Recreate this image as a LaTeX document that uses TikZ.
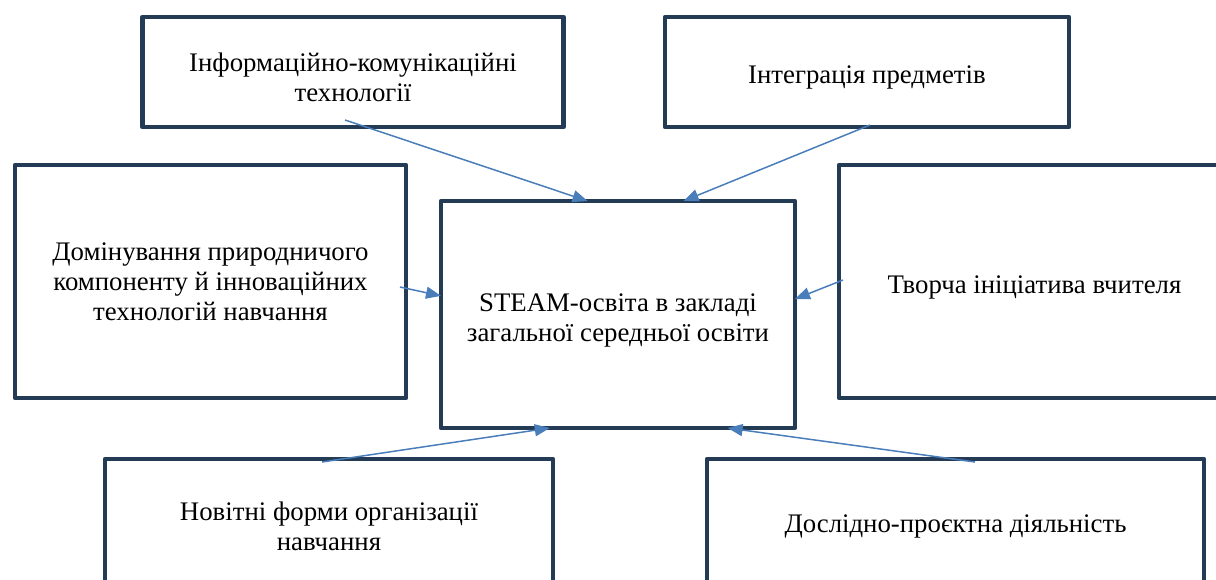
\documentclass[tikz,border=0pt]{standalone}
\usepackage{fontspec}
\setmainfont{Liberation Serif}
\usepackage{tikz}
\usetikzlibrary{arrows.meta}
\definecolor{boxnavy}{HTML}{243B55}
\definecolor{arrowblue}{HTML}{4A7EBB}
\newcommand{\boxlead}{\rule{0pt}{15pt}}

\begin{document}
\begin{tikzpicture}[
    x=0.5pt, y=-0.5pt,
    >={Triangle[length=7.5pt, width=6pt]},
    box/.style={rectangle, draw=boxnavy, line width=2.2pt, line join=round,
                fill=white, align=center, inner sep=0pt, outer sep=0pt,
                font=\fontsize{13.4}{15}\selectfont,
                execute at begin node={\rule{0pt}{14.5pt}}},
    line/.style={->, line width=0.75pt, arrowblue}
  ]
  \clip (0,0) rectangle (1216,579);

  % Central block
  \node[box, minimum width=177pt, minimum height=113.5pt] (steam) at (618,314.5)
       {\boxlead STEAM-освіта в закладі\\загальної середньої освіти};

  % Top row
  \node[box, minimum width=210.5pt, minimum height=55pt] (ikt) at (353,72)
       {\boxlead Інформаційно-комунікаційні\\технології};
  \node[box, minimum width=202pt, minimum height=55pt] (integr) at (867,72)
       {Інтеграція предметів};

  % Middle row
  \node[box, minimum width=195.5pt, minimum height=116.5pt] (domin) at (210.5,281.5)
       {Домінування природничого\\компоненту й інноваційних\\технологій навчання};
  \node[box, minimum width=195.5pt, minimum height=116.5pt] (tvorcha) at (1034.5,281.5)
       {Творча ініціатива вчителя};

  % Bottom row
  \node[box, minimum width=224pt, minimum height=62pt] (novitni) at (329,521)
       {\boxlead Новітні форми організації\\навчання};
  \node[box, minimum width=248.5pt, minimum height=62pt] (doslid) at (955.5,521)
       {Дослідно-проєктна діяльність};

  % Start points of the arrows
  \coordinate (ikt-src)     at (345,120);
  \coordinate (integr-src)  at (870,125);
  \coordinate (domin-src)   at (400,287);
  \coordinate (tvorcha-src) at (843,280);
  \coordinate (novitni-src) at (322,462);
  \coordinate (doslid-src)  at (975,462);

  % Connections
  \draw[line] (ikt-src) -- (steam.105.3);
  \draw[line] (integr-src) -- (steam.60.2);
  \draw[line] (domin-src) -- (steam.174.7);
  \draw[line] (tvorcha-src) -- (steam.5.6);
  \draw[line] (novitni-src) -- (steam.239.1);
  \draw[line] (doslid-src) -- (steam.314.9);
\end{tikzpicture}
\end{document}
